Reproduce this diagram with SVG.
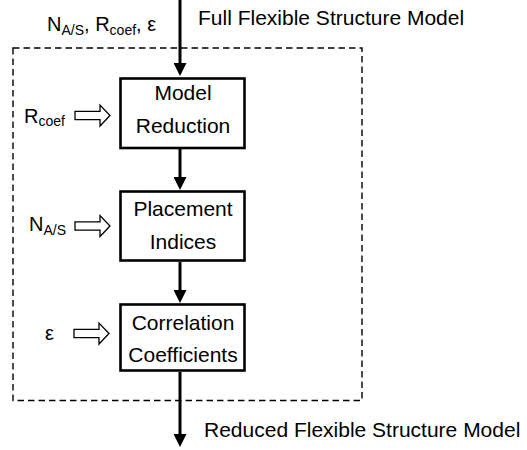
<svg xmlns="http://www.w3.org/2000/svg" width="527" height="450" viewBox="0 0 527 450">
<style>
.t{font-family:"Liberation Sans",Arial,sans-serif;font-size:21px;fill:#000}
.l{font-family:"Liberation Sans",Arial,sans-serif;font-size:20px;fill:#000}
.s{font-size:14px}
.box{fill:#fff;stroke:#000;stroke-width:2.6}
.flow{stroke:#000;stroke-width:3;fill:none;marker-end:url(#ah)}
.hollow{fill:#fff;stroke:#000;stroke-width:1.3}
</style>
<defs>
<marker id="ah" markerUnits="userSpaceOnUse" markerWidth="14" markerHeight="13" refX="1" refY="6.5" orient="auto">
<path d="M0,0 L13,6.5 L0,13 Z" fill="#000"/>
</marker>
<path id="harrow" class="hollow" d="M-35,-4.2 H-10 V-10.5 L0,0 L-10,10.5 V4.2 H-35 Z"/>
</defs>
<rect x="13" y="48" width="349" height="352.5" fill="none" stroke="#000" stroke-width="1.4" stroke-dasharray="6.5,4"/>
<text class="t" x="198" y="25">Full Flexible Structure Model</text>
<text class="l" x="47" y="31">N<tspan class="s" dy="4">A/S</tspan><tspan dy="-4">, R</tspan><tspan class="s" dy="4">coef</tspan><tspan dy="-4">, ε</tspan></text>
<text class="t" x="204" y="437">Reduced Flexible Structure Model</text>
<g id="connectors">
<line class="flow" x1="180" y1="0" x2="180" y2="64"/>
<line class="flow" x1="180" y1="149" x2="180" y2="178"/>
<line class="flow" x1="180" y1="262" x2="180" y2="291"/>
<line class="flow" x1="180" y1="372" x2="180" y2="435"/>
<use href="#harrow" x="110" y="115.5"/>
<use href="#harrow" x="110" y="226"/>
<use href="#harrow" x="109" y="333.5"/>
</g>
<g id="model-reduction">
<rect class="box" x="120.5" y="78.5" width="124" height="69.5"/>
<text class="t" x="183" y="100" text-anchor="middle">Model</text>
<text class="t" x="183" y="133" text-anchor="middle">Reduction</text>
</g>
<g id="placement-indices">
<rect class="box" x="120.5" y="191.5" width="124" height="69"/>
<text class="t" x="183" y="216" text-anchor="middle">Placement</text>
<text class="t" x="183" y="249" text-anchor="middle">Indices</text>
</g>
<g id="correlation-coefficients">
<rect class="box" x="120.5" y="304.5" width="124" height="66"/>
<text class="t" x="183" y="329.5" text-anchor="middle">Correlation</text>
<text class="t" x="183" y="362" text-anchor="middle">Coefficients</text>
</g>
<g id="input-rcoef"><text class="l" x="24" y="123">R<tspan class="s" dy="3">coef</tspan></text></g>
<g id="input-nas"><text class="l" x="29" y="231">N<tspan class="s" dy="4">A/S</tspan></text></g>
<g id="input-eps"><text class="l" x="45" y="340" font-size="22">ε</text></g>
</svg>
